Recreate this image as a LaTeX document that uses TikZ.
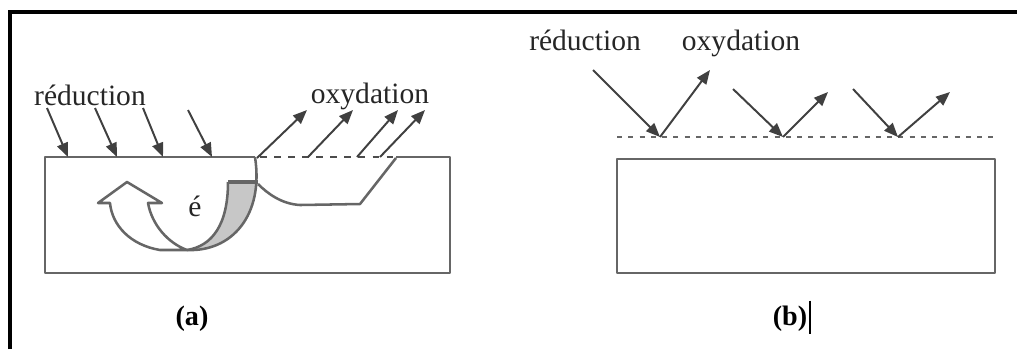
\documentclass[tikz,border=0pt]{standalone}
\usepackage{fontspec}
\setmainfont{Liberation Serif}
\usetikzlibrary{arrows.meta}
\tikzset{
  frame/.style={line width=1.5pt, black},
  block/.style={draw=black!60, line width=0.9pt, line join=round},
  flux/.style={draw=black!75, line width=0.7pt, -{Triangle[length=5pt,width=4pt]}},
  surf/.style={draw=black!70, line width=0.8pt, dash pattern=on 2.4pt off 2.6pt},
  plane/.style={draw=black!60, line width=0.8pt, dash pattern=on 1.8pt off 2.2pt},
  lbl/.style={anchor=base, inner sep=0pt, font=\fontsize{10.5}{12}\selectfont, text=black!85},
  figcap/.style={anchor=base, inner sep=0pt, font=\fontsize{10}{12}\selectfont\bfseries}
}

\begin{document}
\begin{tikzpicture}[x=0.0125cm, y=-0.0125cm]
  \useasboundingbox (0,0) rectangle (1017,349);
  % outer frame (top and left only)
  \draw[frame] (10,349) -- (10,12) -- (1017,12);

  % ---------- (a) local corrosion ----------
  \draw[block] (255,157) -- (45,157) -- (45,273) -- (450,273) -- (450,157) -- (396,157);
  \draw[surf] (260,157) -- (394,157);
  % pit outline
  \draw[block] (396,158) -- (360,204) -- (300,205) .. controls (282,204) and (268,194) .. (258,184);
  % grey tail of the electron arrow
  \begin{scope}
    \clip (150,182) rectangle (300,260);
    \fill[black!22] (255,157) .. controls (264,215) and (232,252) .. (187,250)
      .. controls (212,246) and (228,225) .. (228,182) -- (228,150) -- cycle;
  \end{scope}
  \draw[block] (255,157) .. controls (264,215) and (232,252) .. (187,250);
  \draw[block] (228,182) .. controls (228,225) and (212,246) .. (187,250);
  \draw[block, line width=1.3pt] (228,182) -- (258,182);
  % white head of the electron arrow
  \draw[block, fill=white] (187,250) -- (160,250) .. controls (130,245) and (112,225) .. (110,203)
    -- (98,203) -- (127,182) -- (162,203) -- (148,203)
    .. controls (152,225) and (168,243) .. (187,250);
  \node[lbl] (elec) at (195,216) {é};

  % reduction on the cathodic part
  \node[lbl] (reda) at (90,105) {réduction};
  \coordinate (ra1) at (47,108);  \coordinate (sa1) at (68,157);
  \coordinate (ra2) at (95,108);  \coordinate (sa2) at (117,157);
  \coordinate (ra3) at (143,108); \coordinate (sa3) at (163,157);
  \coordinate (ra4) at (188,110); \coordinate (sa4) at (212,157);
  \draw[flux] (ra1) -- (sa1);
  \draw[flux] (ra2) -- (sa2);
  \draw[flux] (ra3) -- (sa3);
  \draw[flux] (ra4) -- (sa4);

  % oxidation in the pit
  \node[lbl] (oxa) at (370,103) {oxydation};
  \coordinate (pa1) at (257,158); \coordinate (oa1) at (307,110);
  \coordinate (pa2) at (308,157); \coordinate (oa2) at (353,110);
  \coordinate (pa3) at (357,157); \coordinate (oa3) at (398,110);
  \coordinate (pa4) at (380,157); \coordinate (oa4) at (425,110);
  \draw[flux] (pa1) -- (oa1);
  \draw[flux] (pa2) -- (oa2);
  \draw[flux] (pa3) -- (oa3);
  \draw[flux] (pa4) -- (oa4);

  \node[figcap] (capa) at (192,325) {(a)};

  % ---------- (b) uniform corrosion ----------
  \draw[block] (617,159) rectangle (995,273);
  \draw[plane] (617,137) -- (997,137);
  \node[lbl] (redb) at (585,50) {réduction};
  \node[lbl] (oxb) at (741,50) {oxydation};
  \coordinate (sb1) at (660,137);
  \coordinate (sb2) at (783,137);
  \coordinate (sb3) at (898,137);
  \coordinate (rb1) at (593,70);  \coordinate (ob1) at (710,70);
  \coordinate (rb2) at (733,89);  \coordinate (ob2) at (828,92);
  \coordinate (rb3) at (853,89);  \coordinate (ob3) at (950,92);
  \draw[flux] (rb1) -- (sb1);
  \draw[flux] (sb1) -- (ob1);
  \draw[flux] (rb2) -- (sb2);
  \draw[flux] (sb2) -- (ob2);
  \draw[flux] (rb3) -- (sb3);
  \draw[flux] (sb3) -- (ob3);

  \node[figcap] (capb) at (790,325) {(b)};
  \draw[line width=0.6pt] ([xshift=0.8pt,yshift=1.5pt]capb.north east) -- ([xshift=0.8pt,yshift=-1pt]capb.south east);
\end{tikzpicture}
\end{document}
